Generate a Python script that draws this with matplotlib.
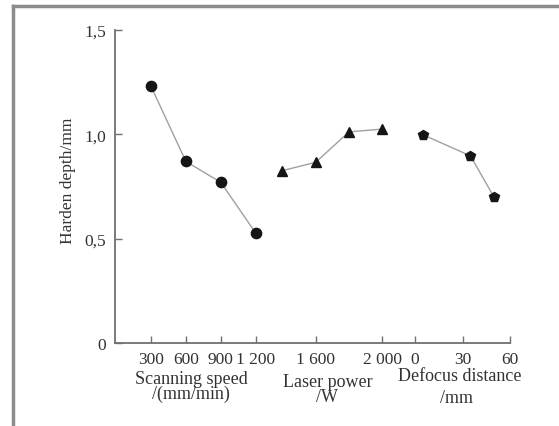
import matplotlib
matplotlib.use("Agg")
import matplotlib.pyplot as plt
from matplotlib.lines import Line2D

plt.rcParams['font.family'] = ['Liberation Serif', 'DejaVu Serif']

# data
speed = [300, 600, 900, 1200]
depth_speed = [1.23, 0.87, 0.77, 0.527]
power = [1400, 1600, 1800, 2000]
depth_power = [0.826, 0.866, 1.012, 1.025]
defocus = [5, 35, 50]
depth_defocus = [0.998, 0.897, 0.698]

speed_ticks = [300, 600, 900, 1200]
power_ticks = [1600, 2000]
defocus_ticks = [0, 30, 60]
tick_labels = ['300', '600', '900', '1 200', '1 600', '2 000', '0', '30', '60']
yticks = [0, 0.5, 1.0, 1.5]
ytick_labels = ['0', '0,5', '1,0', '1,5']


# each variable gets its own stretch of the shared x axis
def pos_speed(v):
    return 36.3 + (v - 300) * 34.9 / 300


def pos_power(v):
    return 201 + (v - 1600) * 66.6 / 400


def pos_defocus(v):
    return 300.3 + v * 95 / 60


W, H = 559, 427
fig = plt.figure(figsize=(W / 100, H / 100), dpi=100)
ax = fig.add_axes([114.7 / W, 1 - 344 / H, (510 - 114.7) / W, (344 - 31) / H])

line_kw = dict(color='#a0a0a0', lw=1.0, markersize=7.4, markerfacecolor='#151515',
               markeredgecolor='#151515')
ax.plot([pos_speed(v) for v in speed], depth_speed, marker='o', **line_kw)
ax.plot([pos_power(v) for v in power], depth_power, marker='^', **line_kw)
ax.plot([pos_defocus(v) for v in defocus], depth_defocus, marker='p', **line_kw)

ax.set_xlim(0, 395.3)
ax.set_ylim(0, 1.5)

xt = [pos_speed(v) for v in speed_ticks] + [pos_power(v) for v in power_ticks] + \
     [pos_defocus(v) for v in defocus_ticks]
ax.set_xticks(xt)
ax.set_xticklabels(tick_labels)
ax.set_yticks(yticks)
ax.set_yticklabels(ytick_labels)

for s in ['top', 'right']:
    ax.spines[s].set_visible(False)
for s in ['left', 'bottom']:
    ax.spines[s].set_color('#707070')
    ax.spines[s].set_linewidth(1.3)

ax.tick_params(direction='in', length=5, width=1, color='#707070',
               labelsize=12.5, labelcolor='#333333')
ax.tick_params(axis='x', pad=6)
ax.tick_params(axis='y', pad=6)

ax.set_ylabel('Harden depth/mm', fontsize=12.5, color='#333333')
ax.yaxis.set_label_coords(-0.098, 0.522)

# group captions under the x axis
txt = dict(fontsize=13, color='#333333', ha='center', va='center',
           multialignment='center', linespacing=0.9)
fig.text(191 / W, 1 - 387 / H, 'Scanning speed\n/(mm/min)', **txt)
fig.text(327.5 / W, 1 - 390 / H, 'Laser power\n/W', **txt)
fig.text(460 / W, 1 - 377 / H, 'Defocus distance', **txt)
fig.text(456 / W, 1 - 399 / H, '/mm', **txt)

# outer frame (left and top edges visible)
fig.add_artist(Line2D([12.7 / W, 12.7 / W], [0, 1 - 7.3 / H], transform=fig.transFigure,
                      color='#8c8c8c', lw=2.5))
fig.add_artist(Line2D([12.7 / W, 1], [1 - 7.3 / H, 1 - 7.3 / H], transform=fig.transFigure,
                      color='#8c8c8c', lw=2.5))

fig.savefig('out.png', dpi=100)
